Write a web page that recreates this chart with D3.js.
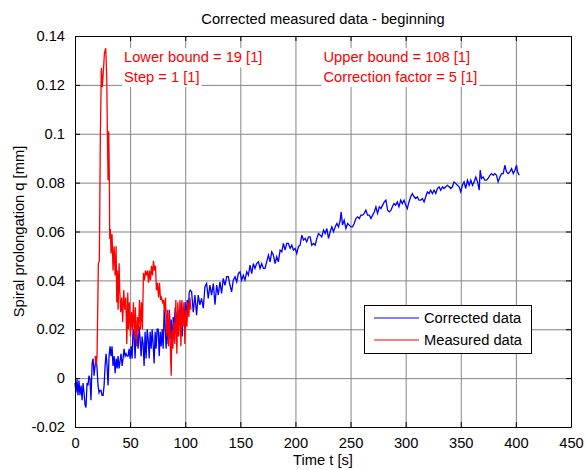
<!DOCTYPE html>
<html>
<head>
<meta charset="utf-8">
<script src="https://cdn.jsdelivr.net/npm/d3@7"></script>
<style>
  body { margin: 0; background: #fff; }
  text { font-family: "Liberation Sans", Arial, sans-serif; }
</style>
</head>
<body>
<div id="chart"></div>
<script>
var width = 587,
    height = 470;

// plot box in pixels
var plotLeft = 75, plotRight = 571, plotTop = 36, plotBottom = 427;

var xTicks = [0, 50, 100, 150, 200, 250, 300, 350, 400, 450];
var yTicks = [-0.02, 0, 0.02, 0.04, 0.06, 0.08, 0.1, 0.12, 0.14];

var seriesNames = ["Corrected data", "Measured data"];
var seriesColors = ["#0000ff", "#ff0000"];

var leftNotes = ["Lower bound = 19 [1]", "Step = 1 [1]"];
var rightNotes = ["Upper bound = 108 [1]", "Correction factor = 5 [1]"];

// [t (s), q (mm)]
var measuredData = [
  [18.2,0.009],[19.1,0.005],[20,0.009],[21.2,0.047],[22.1,0.048],[23,0.099],[23.9,0.127],
  [24.8,0.119],[25.8,0.126],[26.7,0.133],[27.9,0.135],[28.8,0.123],[29.4,0.100],[30,0.081],
  [30.6,0.101],[31.2,0.081],[31.5,0.057],[32.1,0.061],[32.7,0.051],[33.6,0.059],[34.5,0.044],
  [35.5,0.054],[36.4,0.042],[37.3,0.054],[37.9,0.031],[38.5,0.044],[39.1,0.028],[40,0.047],
  [40.6,0.036],[41.5,0.027],[42.4,0.033],[43.3,0.023],[44.2,0.036],[45.2,0.028],[46.1,0.033],
  [47,0.014],[47.9,0.035],[48.5,0.020],[49.4,0.031],[50.3,0.017],[51.2,0.027],[52.1,0.020],
  [53,0.031],[53.9,0.017],[54.8,0.029],[55.8,0.013],[56.7,0.025],[57.6,0.019],[58.5,0.032],
  [59.4,0.020],[60.3,0.031],[61.2,0.020],[62.1,0.043],[63,0.040],[63.9,0.044],[64.8,0.042],
  [65.8,0.044],[66.7,0.039],[67.6,0.044],[68.5,0.040],[69.4,0.046],[70.3,0.042],[71.2,0.048],
  [72.1,0.044],[73,0.046],[73.9,0.036],[74.8,0.039],[75.8,0.033],[76.7,0.039],[77.6,0.032],
  [78.5,0.033],[79.4,0.031],[80.3,0.032],[81.2,0.027],[82.1,0.033],[83,0.017],[83.9,0.028],
  [84.8,0.013],[85.8,0.027],[86.7,0.009],[87.3,0.001],[87.9,0.020],[88.8,0.012],[89.7,0.023],
  [90.6,0.014],[91.5,0.032],[92.4,0.010],[93.3,0.031],[94.2,0.017],[95.2,0.032],[96.1,0.013],
  [97,0.032],[97.9,0.021],[98.8,0.031],[99.7,0.014],[100.6,0.028],[101.5,0.021],[102.4,0.031],
  [103.3,0.025],[104.2,0.033],[105.2,0.028]
];

var correctedData = [
  [0,-0.002],[0.9,-0.006],[1.8,-0.0005],[2.7,-0.007],[3.6,-0.001],[4.5,-0.007],[5.5,-0.003],
  [6.4,-0.009],[7.3,-0.002],[8.2,-0.006],[9.1,-0.011],[10,-0.012],[10.9,-0.002],[11.8,-0.003],
  [12.7,0.001],[13.6,-0.0005],[14.5,-0.009],[15.5,0.006],[16.4,0.008],[17.3,0.001],[18.2,0.005],
  [19.1,0.009],[20,0.004],[20.9,-0.003],[21.8,-0.006],[22.7,-0.005],[23.6,-0.005],[24.5,-0.007],
  [25.5,-0.007],[26.4,-0.003],[27.3,0.005],[28.2,0.010],[29.1,0.005],[30,-0.003],[30.9,0.009],
  [31.8,0.013],[32.7,0.009],[33.6,0.013],[34.5,0.005],[35.5,0.009],[36.4,0.002],[37.3,0.008],
  [38.2,0.004],[39.1,0.009],[40,0.004],[40.9,0.007],[41.8,0.010],[42.7,0.005],[43.6,0.008],
  [44.5,0.012],[45.5,0.009],[46.4,0.010],[47.3,0.009],[48.2,0.009],[49.1,0.012],[50,0.008],
  [50.9,0.013],[51.8,0.008],[52.7,0.020],[53.6,0.017],[54.5,0.008],[55.5,0.021],[56.4,0.017],
  [57.3,0.012],[58.2,0.021],[59.1,0.016],[60,0.009],[60.9,0.017],[61.8,0.014],[62.7,0.005],
  [63.6,0.019],[64.5,0.008],[65.5,0.020],[66.4,0.016],[67.3,0.008],[68.2,0.019],[69.1,0.012],
  [70,0.020],[70.9,0.014],[71.8,0.006],[72.7,0.019],[73.6,0.012],[74.5,0.020],[75.5,0.020],
  [76.4,0.009],[77.3,0.019],[78.2,0.013],[79.1,0.020],[80,0.012],[80.9,0.028],[81.8,0.021],
  [82.7,0.012],[83.6,0.023],[84.5,0.014],[85.5,0.028],[86.4,0.016],[87.3,0.024],[88.2,0.013],
  [89.1,0.025],[90,0.020],[90.9,0.029],[91.8,0.020],[92.7,0.027],[93.6,0.017],[94.5,0.028],
  [95.5,0.023],[96.4,0.031],[97.3,0.017],[98.2,0.029],[99.1,0.024],[100,0.031],[100.9,0.025],
  [101.8,0.032],[102.7,0.027],[103.6,0.035],[104.5,0.036],
  [105.8,0.0353],[107.3,0.027],[108.8,0.034],[110.3,0.0258],[111.8,0.034],[113.3,0.030],
  [114.8,0.0326],[116.4,0.0286],[117.9,0.0374],[119.4,0.0387],[120.9,0.0326],[122.4,0.0381],
  [123.9,0.034],[125.5,0.0387],[127,0.030],[128.5,0.0381],[130,0.034],[131.5,0.0394],
  [133,0.0347],[134.5,0.0408],[136.1,0.038],[137.6,0.0415],[139.1,0.0415],[140.6,0.038],
  [142.1,0.0353],[143.6,0.0401],[145.2,0.0415],[146.7,0.0394],[148.2,0.0428],[149.7,0.0435],
  [151.2,0.0401],[152.7,0.0421],[154.2,0.0401],[155.8,0.0435],[157.3,0.0421],[158.8,0.0462],
  [160.3,0.0428],[161.8,0.0469],[163.3,0.0449],[164.8,0.0469],[166.4,0.0476],[167.9,0.0449],
  [169.4,0.0469],[170.9,0.0449],[172.4,0.0449],[173.9,0.0476],[175.5,0.0503],[177,0.0476],
  [178.5,0.0517],[180,0.0503],[181.5,0.0469],[183,0.0497],[184.5,0.0476],[186.1,0.0524],
  [187.6,0.0517],[189.1,0.0551],[190.6,0.0524],[192.1,0.0551],[193.6,0.0551],[195.2,0.0531],
  [196.7,0.0544],[198.2,0.0524],[199.7,0.0531],[201.2,0.0510],[202.7,0.0538],[204.2,0.0544],
  [205.8,0.0585],[207.3,0.0565],[208.8,0.0572],[210.3,0.0558],[211.8,0.0578],[213.3,0.0578],
  [214.8,0.0544],[216.4,0.0551],[217.9,0.0544],[219.4,0.0572],[220.9,0.0592],[222.4,0.0585],
  [223.9,0.0578],[225.5,0.0606],[227,0.0592],[228.5,0.0612],[230,0.0572],[231.5,0.0599],
  [233,0.0619],[234.5,0.0599],[236.1,0.0619],[237.6,0.0633],[239.1,0.0619],[240.6,0.0646],
  [241.5,0.0680],[242.7,0.0626],[244.2,0.0646],[245.8,0.0612],[247.3,0.0633],[248.8,0.0626],
  [250.3,0.0619],[251.8,0.0619],[253.3,0.0633],[254.8,0.0653],[256.4,0.0660],[257.9,0.0653],
  [259.4,0.0667],[260.9,0.0667],[262.4,0.0674],[263.9,0.0687],[265.5,0.0667],[267,0.0667],
  [268.5,0.0653],[270,0.0667],[271.5,0.0680],[273,0.0701],[274.5,0.0674],[276.1,0.0701],
  [277.6,0.0694],[279.1,0.0708],[280.6,0.0721],[282.1,0.0728],[283.6,0.0687],[285.2,0.0680],
  [286.7,0.0687],
  [287.9,0.0701],[289.4,0.0714],[290.9,0.0708],[292.4,0.0721],[293.9,0.0701],[295.5,0.0728],
  [297,0.0714],[298.5,0.0728],[300,0.0708],[301.5,0.0694],[303,0.0721],[304.5,0.0742],
  [306.1,0.0755],[307.6,0.0742],[309.1,0.0735],[310.6,0.0742],[312.1,0.0728],[313.6,0.0728],
  [315.2,0.0735],[316.7,0.0721],[318.2,0.0742],[319.7,0.0762],[321.2,0.0755],[322.7,0.0769],
  [324.2,0.0755],[325.8,0.0769],[327.3,0.0755],[328.8,0.0776],[330.3,0.0783],[331.8,0.0769],
  [333.3,0.0783],[334.8,0.0776],[336.4,0.0783],[337.9,0.0789],[339.4,0.0783],[340.9,0.0776],
  [342.4,0.0783],[343.9,0.0803],[345.5,0.0796],[347,0.0789],[348.5,0.0783],[350,0.0762],
  [351.5,0.0789],[353,0.0803],[354.5,0.0776],[356.1,0.0810],[357.6,0.0789],[359.1,0.0810],
  [360.6,0.0789],[362.1,0.0803],[363.6,0.0823],[365.2,0.0803],[366.7,0.0769],[367.6,0.0851],
  [368.8,0.0817],[370.3,0.0823],[371.8,0.0810],[373.3,0.0810],[374.8,0.0817],[376.4,0.0830],
  [377.9,0.0837],[379.4,0.0830],[380.9,0.0837],[382.4,0.0830],[383.9,0.0803],[385.5,0.0823],
  [387,0.0837],[388.5,0.0837],[390,0.0871],[391.5,0.0844],[393,0.0837],[394.5,0.0844],
  [396.1,0.0857],[397.6,0.0837],[399.1,0.0851],[400.6,0.0871],[401.5,0.0844],[403,0.0830]
];

var svg = d3.select("#chart")
    .append("svg")
    .attr("width", width)
    .attr("height", height)
    .style("display", "block");

svg.append("rect").attr("width", width).attr("height", height).attr("fill", "#fff");

var x = d3.scaleLinear().domain([0, 450]).range([plotLeft, plotRight]);
var y = d3.scaleLinear().domain([-0.02, 0.14]).range([plotBottom, plotTop]);

var fmt = function(d) { return d === 0 ? "0" : String(+d.toFixed(2)); };

// grid
svg.append("g")
    .attr("transform", "translate(0," + plotBottom + ")")
    .call(d3.axisBottom(x).tickValues(xTicks).tickSize(-(plotBottom - plotTop)).tickFormat(""))
    .call(function(g) {
      g.select(".domain").remove();
      g.selectAll("line").attr("stroke", "#858585");
    });

svg.append("g")
    .attr("transform", "translate(" + plotLeft + ",0)")
    .call(d3.axisLeft(y).tickValues(yTicks).tickSize(-(plotRight - plotLeft)).tickFormat(""))
    .call(function(g) {
      g.select(".domain").remove();
      g.selectAll("line").attr("stroke", "#858585");
    });

// data lines
var line = d3.line()
    .x(function(d) { return x(d[0]); })
    .y(function(d) { return y(d[1]); });

svg.append("path")
    .datum(correctedData)
    .attr("fill", "none")
    .attr("stroke", seriesColors[0])
    .attr("stroke-width", 1.3)
    .attr("d", line);

svg.append("path")
    .datum(measuredData)
    .attr("fill", "none")
    .attr("stroke", seriesColors[1])
    .attr("stroke-width", 1.3)
    .attr("d", line);

// red notes with white background
function notes(lines, x0) {
  var g = svg.append("g");
  lines.forEach(function(s, i) {
    var t = g.append("text")
        .attr("x", x0)
        .attr("y", 62 + i * 20)
        .attr("fill", "#ff0000")
        .style("font-size", "14.7px")
        .text(s);
    var bb = t.node().getBBox();
    g.insert("rect", "text")
        .attr("x", bb.x - 2)
        .attr("y", 48 + i * 19.5)
        .attr("width", bb.width + 4)
        .attr("height", 19.5)
        .attr("fill", "#fff");
  });
}
notes(leftNotes, 124);
notes(rightNotes, 323.5);

// axes box with inward ticks
function styleAxis(g) {
  g.select(".domain").attr("stroke", "#000");
  g.selectAll(".tick line").attr("stroke", "#000");
  g.selectAll("text")
      .attr("fill", "#000")
      .style("font-size", "14.7px")
      .style("font-family", "'Liberation Sans', Arial, sans-serif");
}

svg.append("g")
    .attr("transform", "translate(0," + plotBottom + ")")
    .call(d3.axisBottom(x).tickValues(xTicks).tickSizeInner(-5).tickSizeOuter(0).tickPadding(11).tickFormat(fmt))
    .call(styleAxis);

svg.append("g")
    .attr("transform", "translate(0," + plotTop + ")")
    .call(d3.axisTop(x).tickValues(xTicks).tickSizeInner(-5).tickSizeOuter(0).tickFormat(""))
    .call(styleAxis);

svg.append("g")
    .attr("transform", "translate(" + plotLeft + ",0)")
    .call(d3.axisLeft(y).tickValues(yTicks).tickSizeInner(-5).tickSizeOuter(0).tickPadding(10).tickFormat(fmt))
    .call(styleAxis);

svg.append("g")
    .attr("transform", "translate(" + plotRight + ",0)")
    .call(d3.axisRight(y).tickValues(yTicks).tickSizeInner(-5).tickSizeOuter(0).tickFormat(""))
    .call(styleAxis);

// title and axis labels
svg.append("text")
    .attr("x", (plotLeft + plotRight) / 2)
    .attr("y", 24)
    .attr("text-anchor", "middle")
    .style("font-size", "14.7px")
    .text("Corrected measured data - beginning");

svg.append("text")
    .attr("x", (plotLeft + plotRight) / 2)
    .attr("y", 465)
    .attr("text-anchor", "middle")
    .style("font-size", "14.7px")
    .text("Time t [s]");

svg.append("text")
    .attr("transform", "translate(24," + ((plotTop + plotBottom) / 2) + ") rotate(-90)")
    .attr("text-anchor", "middle")
    .style("font-size", "14.7px")
    .text("Spiral prolongation q [mm]");

// legend
var legend = svg.append("g").attr("transform", "translate(364,305)");

legend.append("rect")
    .attr("x", 0.5)
    .attr("y", 0.5)
    .attr("width", 167)
    .attr("height", 48)
    .attr("fill", "#fff")
    .attr("stroke", "#000");

seriesNames.forEach(function(name, i) {
  legend.append("line")
      .attr("x1", 10).attr("x2", 55)
      .attr("y1", 13 + i * 22).attr("y2", 13 + i * 22)
      .attr("stroke", seriesColors[i])
      .attr("stroke-width", 1);
  legend.append("text")
      .attr("x", 60)
      .attr("y", 18 + i * 22)
      .style("font-size", "14.7px")
      .text(name);
});
</script>
</body>
</html>
